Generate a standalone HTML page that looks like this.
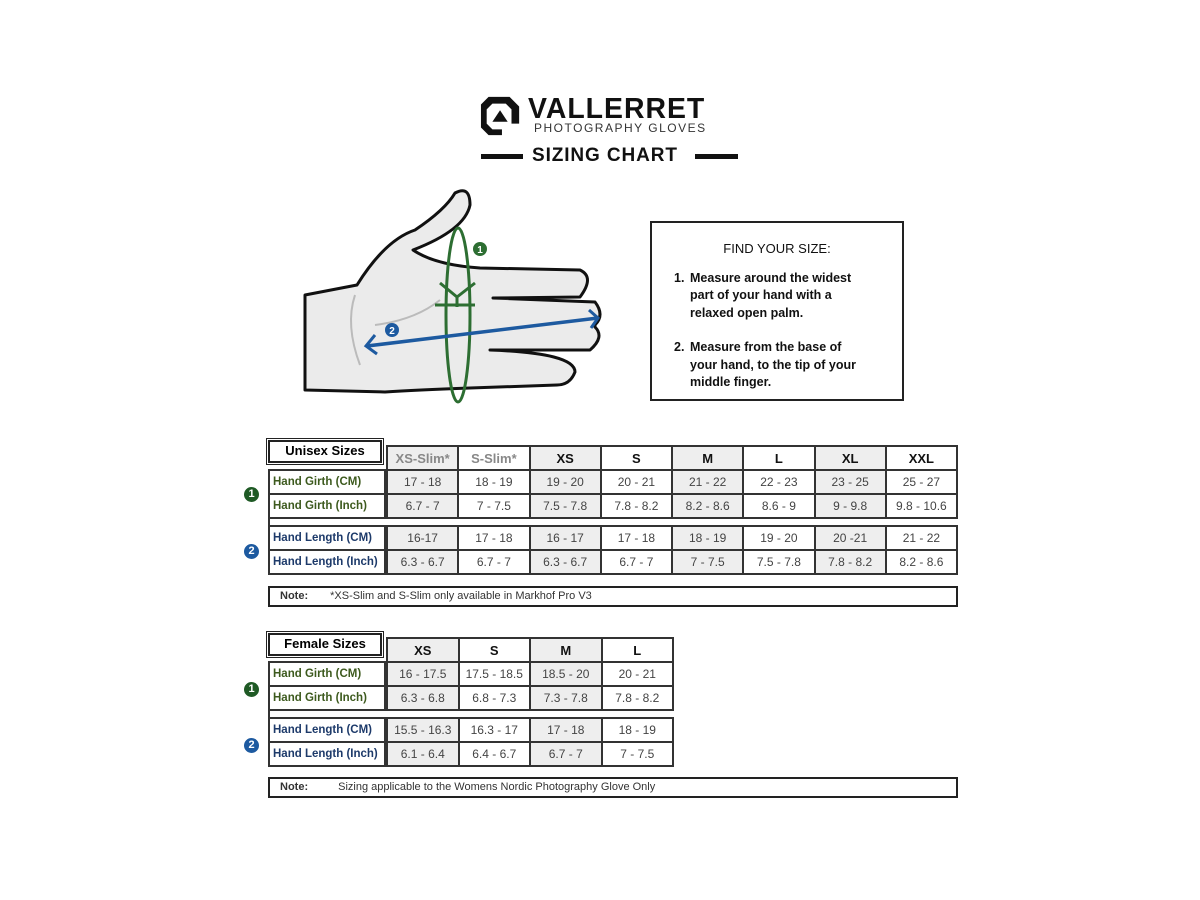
<!DOCTYPE html>
<html><head><meta charset="utf-8"><style>
body{margin:0;width:1200px;height:900px;background:#fff;position:relative;overflow:hidden;font-family:"Liberation Sans",sans-serif}
.a{position:absolute}
table{border-collapse:collapse;position:absolute;table-layout:fixed}
td{border:2px solid #333;text-align:center;font-size:12px;color:#444;padding:0;height:22px;font-family:"Liberation Sans",sans-serif}
td.g{background:#eee}
td.h{font-weight:bold;font-size:13px;color:#111}
td.gap{height:6px;border-left:none;border-right:none}
.lab td{text-align:left;font-weight:bold;font-size:11.5px;padding-left:3px}
.gr{color:#3d5a1e}.bl{color:#1d3a6a}
.box{position:absolute;border:2px solid #222;outline:1px solid #222;outline-offset:1px;font-weight:bold;font-size:13px;text-align:center;line-height:18px}
.note{position:absolute;border:2px solid #222;font-size:11px;line-height:17px;color:#333}
.num{position:absolute;width:15px;height:15px;border-radius:50%;color:#fff;font-size:11px;font-weight:bold;text-align:center;line-height:15px}
</style></head><body>

<!-- logo -->
<svg class="a" style="left:479px;top:95px" width="44" height="42" viewBox="0 0 46 44">
<path d="M10 2 H32 L42 12 V30 H34 V15 L28 9 H14 L8 15 V30 L14 36 H24 V42 H10 L2 34 V10 Z" fill="#111"/>
<path d="M14 28 L22 16 L30 28 Z" fill="#111"/>
</svg>
<div class="a" style="left:528px;top:94px;font-size:29px;font-weight:bold;letter-spacing:1px;color:#111;line-height:30px;transform:scaleX(0.98);transform-origin:left">VALLERRET</div>
<div class="a" style="left:534px;top:121px;font-size:12px;letter-spacing:1.5px;color:#333">PHOTOGRAPHY GLOVES</div>
<div class="a" style="left:481px;top:154px;width:42px;height:5px;background:#111"></div>
<div class="a" style="left:695px;top:154px;width:43px;height:5px;background:#111"></div>
<div class="a" style="left:532px;top:145px;font-size:19px;font-weight:bold;color:#111;letter-spacing:0.9px;line-height:22px">SIZING CHART</div>

<!-- hand -->
<svg class="a" style="left:295px;top:185px" width="320" height="225" viewBox="0 0 320 225">
<path d="M10 110 L62 100 Q90 55 120 45 Q150 25 160 8 Q175 0 175 20 Q170 45 118 65 Q140 80 185 83 L285 85 Q300 92 285 112 L198 113 L300 117 Q310 130 300 140 L300 142 Q310 152 295 165 L195 165 Q280 168 280 187 Q275 200 262 200 L175 203 Q120 205 90 207 L10 205 Z" fill="#ebebeb" stroke="#111" stroke-width="3" stroke-linejoin="round"/>
<path d="M60 110 Q50 140 65 180" fill="none" stroke="#bbb" stroke-width="2"/>
<path d="M80 140 Q120 135 145 115" fill="none" stroke="#bbb" stroke-width="2"/>
<ellipse cx="163" cy="130" rx="12" ry="87" fill="none" stroke="#2d6e32" stroke-width="3"/>
<path d="M140 120 H180 M145 98 L162 112 L180 98 M162 112 V122" fill="none" stroke="#2d6e32" stroke-width="3"/>
<path d="M72 161 L303 133" stroke="#1d5aa0" stroke-width="3.5"/>
<path d="M80 150 L71 161 L82 169 M294 125 L303 133 L296 143" fill="none" stroke="#1d5aa0" stroke-width="3"/>
<circle cx="185" cy="64" r="7" fill="#2d6e32"/><text x="185" y="68" font-size="10" font-weight="bold" fill="#fff" text-anchor="middle" font-family="Liberation Sans">1</text>
<circle cx="97" cy="145" r="7" fill="#1d5aa0"/><text x="97" y="149" font-size="10" font-weight="bold" fill="#fff" text-anchor="middle" font-family="Liberation Sans">2</text>
</svg>

<!-- find your size -->
<div class="a" style="left:650px;top:221px;width:250px;height:176px;border:2px solid #222;font-size:12.5px;font-weight:bold;color:#111;line-height:17.5px">
<div style="text-align:center;margin-top:17px;font-weight:normal;font-size:13px">FIND YOUR SIZE:</div>
<div style="margin:12px 0 0 22px;position:relative;padding-left:16px"><span style="position:absolute;left:0">1.</span>Measure around the widest<br>part of your hand with a<br>relaxed open palm.</div>
<div style="margin:17px 0 0 22px;position:relative;padding-left:16px"><span style="position:absolute;left:0">2.</span>Measure from the base of<br>your hand, to the tip of your<br>middle finger.</div>
</div>

<!-- Unisex -->
<div class="box" style="left:268px;top:440px;width:110px;height:19px">Unisex Sizes</div>
<table class="lab" style="left:268px;top:469px;width:118px">
<tr><td class="gr">Hand Girth (CM)</td></tr>
<tr><td class="gr">Hand Girth (Inch)</td></tr>
<tr><td class="gap" style="border-left:2px solid #333"></td></tr>
<tr><td class="bl">Hand Length (CM)</td></tr>
<tr><td class="bl">Hand Length (Inch)</td></tr>
</table>
<table style="left:386px;top:445px;width:572px">
<tr><td class="h g" style="color:#888">XS-Slim*</td><td class="h" style="color:#888">S-Slim*</td><td class="h g">XS</td><td class="h">S</td><td class="h g">M</td><td class="h">L</td><td class="h g">XL</td><td class="h">XXL</td></tr>
<tr><td class="g">17 - 18</td><td>18 - 19</td><td class="g">19 - 20</td><td>20 - 21</td><td class="g">21 - 22</td><td>22 - 23</td><td class="g">23 - 25</td><td>25 - 27</td></tr>
<tr><td class="g">6.7 - 7</td><td>7 - 7.5</td><td class="g">7.5 - 7.8</td><td>7.8 - 8.2</td><td class="g">8.2 - 8.6</td><td>8.6 - 9</td><td class="g">9 - 9.8</td><td>9.8 - 10.6</td></tr>
<tr><td class="gap" colspan="8"></td></tr>
<tr><td class="g">16-17</td><td>17 - 18</td><td class="g">16 - 17</td><td>17 - 18</td><td class="g">18 - 19</td><td>19 - 20</td><td class="g">20 -21</td><td>21 - 22</td></tr>
<tr><td class="g">6.3 - 6.7</td><td>6.7 - 7</td><td class="g">6.3 - 6.7</td><td>6.7 - 7</td><td class="g">7 - 7.5</td><td>7.5 - 7.8</td><td class="g">7.8 - 8.2</td><td>8.2 - 8.6</td></tr>
</table>
<div class="num" style="left:244px;top:487px;background:#1f5a25">1</div>
<div class="num" style="left:244px;top:544px;background:#1d5aa0">2</div>
<div class="note" style="left:268px;top:586px;width:686px;height:17px"><b style="margin-left:10px">Note:</b><span style="margin-left:22px">*XS-Slim and S-Slim only available in Markhof Pro V3</span></div>

<!-- Female -->
<div class="box" style="left:268px;top:633px;width:110px;height:19px">Female Sizes</div>
<table class="lab" style="left:268px;top:661px;width:118px">
<tr><td class="gr">Hand Girth (CM)</td></tr>
<tr><td class="gr">Hand Girth (Inch)</td></tr>
<tr><td class="gap" style="border-left:2px solid #333"></td></tr>
<tr><td class="bl">Hand Length (CM)</td></tr>
<tr><td class="bl">Hand Length (Inch)</td></tr>
</table>
<table style="left:386px;top:637px;width:288px">
<tr><td class="h g">XS</td><td class="h">S</td><td class="h g">M</td><td class="h">L</td></tr>
<tr><td class="g">16 - 17.5</td><td>17.5 - 18.5</td><td class="g">18.5 - 20</td><td>20 - 21</td></tr>
<tr><td class="g">6.3 - 6.8</td><td>6.8 - 7.3</td><td class="g">7.3 - 7.8</td><td>7.8 - 8.2</td></tr>
<tr><td class="gap" colspan="4"></td></tr>
<tr><td class="g">15.5 - 16.3</td><td>16.3 - 17</td><td class="g">17 - 18</td><td>18 - 19</td></tr>
<tr><td class="g">6.1 - 6.4</td><td>6.4 - 6.7</td><td class="g">6.7 - 7</td><td>7 - 7.5</td></tr>
</table>
<div class="num" style="left:244px;top:682px;background:#1f5a25">1</div>
<div class="num" style="left:244px;top:738px;background:#1d5aa0">2</div>
<div class="note" style="left:268px;top:777px;width:686px;height:17px"><b style="margin-left:10px">Note:</b><span style="margin-left:30px">Sizing applicable to the Womens Nordic Photography Glove Only</span></div>
</body></html>
